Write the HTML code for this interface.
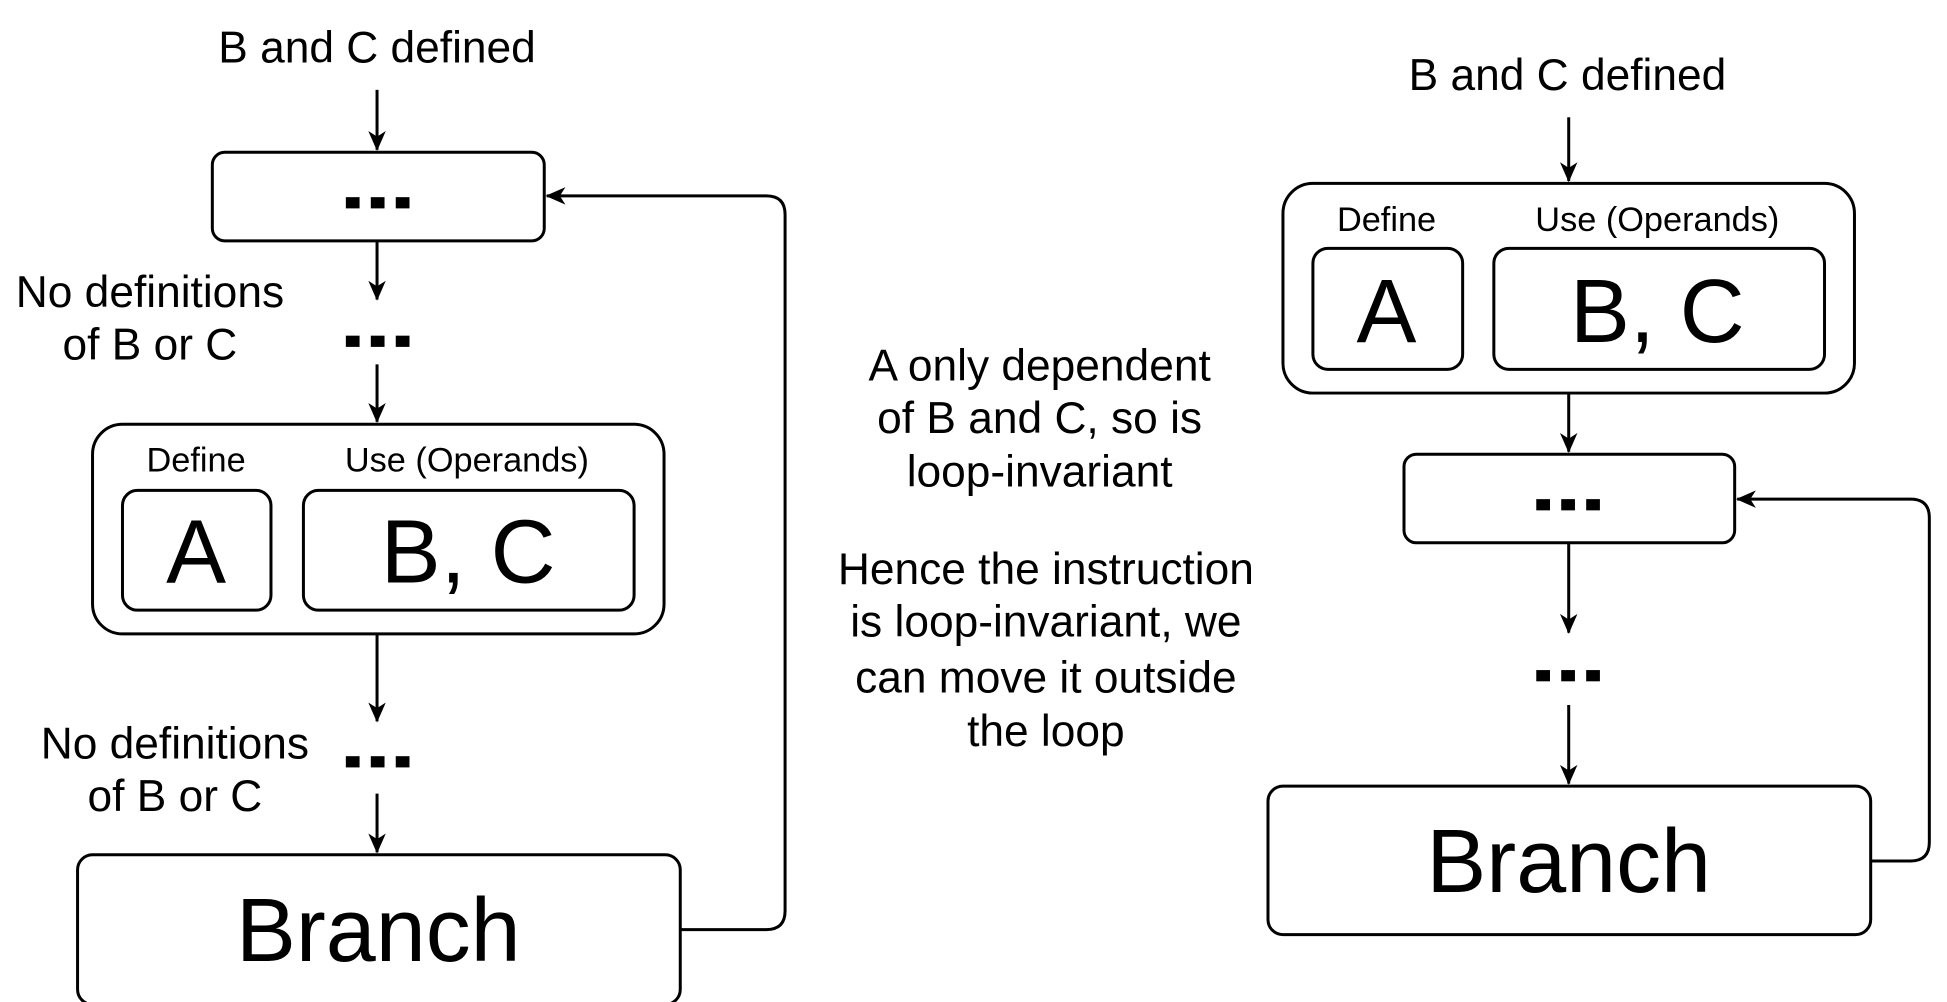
<!DOCTYPE html>
<html><head><meta charset="utf-8"><style>html,body{margin:0;padding:0;background:#fff}svg{display:block}</style></head>
<body>
<svg width="1947" height="1002" viewBox="0 0 1560 803" xmlns="http://www.w3.org/2000/svg" font-family="Liberation Sans, Arial, sans-serif">
<defs>
<marker id="a" viewBox="0 0 16 14" refX="15" refY="7" markerWidth="16" markerHeight="14" markerUnits="userSpaceOnUse" orient="auto">
<path d="M0,0 L16,7 L0,14 L4.5,7 z" fill="#000"/>
</marker>
</defs>
<g fill="none" stroke="#000" stroke-width="2.4">
<rect x="170" y="122" width="266" height="71" rx="10"/>
<rect x="74" y="340" width="458" height="168" rx="24"/>
<rect x="98" y="393" width="119" height="96" rx="12"/>
<rect x="243" y="393" width="265" height="96" rx="12"/>
<rect x="62" y="685" width="483" height="120" rx="12"/>
<line x1="302" y1="72" x2="302" y2="120" marker-end="url(#a)"/>
<line x1="302" y1="193" x2="302" y2="240" marker-end="url(#a)"/>
<line x1="302" y1="292" x2="302" y2="338" marker-end="url(#a)"/>
<line x1="302" y1="508" x2="302" y2="578" marker-end="url(#a)"/>
<line x1="302" y1="636" x2="302" y2="683" marker-end="url(#a)"/>
<path d="M545,745 L614,745 Q629,745 629,730 L629,172 Q629,157 614,157 L438,157" marker-end="url(#a)"/>
<rect x="1028" y="147" width="458" height="168" rx="24"/>
<rect x="1052" y="199" width="120" height="97" rx="12"/>
<rect x="1197" y="199" width="265" height="97" rx="12"/>
<rect x="1125" y="364" width="265" height="71" rx="10"/>
<rect x="1016" y="630" width="483" height="119" rx="12"/>
<line x1="1257" y1="94" x2="1257" y2="145" marker-end="url(#a)"/>
<line x1="1257" y1="315" x2="1257" y2="362" marker-end="url(#a)"/>
<line x1="1257" y1="435" x2="1257" y2="507" marker-end="url(#a)"/>
<line x1="1257" y1="565" x2="1257" y2="628" marker-end="url(#a)"/>
<path d="M1499,690 L1531,690 Q1546,690 1546,675 L1546,415 Q1546,400 1531,400 L1392,400" marker-end="url(#a)"/>
</g>
<g fill="#000">
<rect x="277" y="158" width="11" height="9"/><rect x="297" y="158" width="11" height="9"/><rect x="317" y="158" width="11" height="9"/>
<rect x="277" y="269" width="11" height="9"/><rect x="297" y="269" width="11" height="9"/><rect x="317" y="269" width="11" height="9"/>
<rect x="277" y="606" width="11" height="9"/><rect x="297" y="606" width="11" height="9"/><rect x="317" y="606" width="11" height="9"/>
<rect x="1231" y="400" width="11" height="9"/><rect x="1251" y="400" width="11" height="9"/><rect x="1271" y="400" width="11" height="9"/>
<rect x="1231" y="537" width="11" height="9"/><rect x="1251" y="537" width="11" height="9"/><rect x="1271" y="537" width="11" height="9"/>
</g>
<g fill="#000" text-anchor="middle">
<text x="302" y="50" font-size="35.5">B and C defined</text>
<text x="120" y="246" font-size="35.5">No definitions</text>
<text x="120" y="288" font-size="35.5">of B or C</text>
<text x="157" y="378" font-size="27.5">Define</text>
<text x="374" y="378" font-size="27.5">Use (Operands)</text>
<text x="157" y="467" font-size="72">A</text>
<text x="375" y="467" font-size="72">B, C</text>
<text x="140" y="608" font-size="35.5">No definitions</text>
<text x="140" y="650" font-size="35.5">of B or C</text>
<text x="303" y="770" font-size="72">Branch</text>

<text x="833" y="305" font-size="35.5">A only dependent</text>
<text x="833" y="347" font-size="35.5">of B and C, so is</text>
<text x="833" y="390" font-size="35.5">loop-invariant</text>
<text x="838" y="468" font-size="35.5">Hence the instruction</text>
<text x="838" y="510" font-size="35.5">is loop-invariant, we</text>
<text x="838" y="555" font-size="35.5">can move it outside</text>
<text x="838" y="598" font-size="35.5">the loop</text>

<text x="1256" y="72" font-size="35.5">B and C defined</text>
<text x="1111" y="185" font-size="27.5">Define</text>
<text x="1328" y="185" font-size="27.5">Use (Operands)</text>
<text x="1111" y="274" font-size="72">A</text>
<text x="1328" y="274" font-size="72">B, C</text>
<text x="1257" y="715" font-size="72">Branch</text>
</g>
</svg>
</body></html>
